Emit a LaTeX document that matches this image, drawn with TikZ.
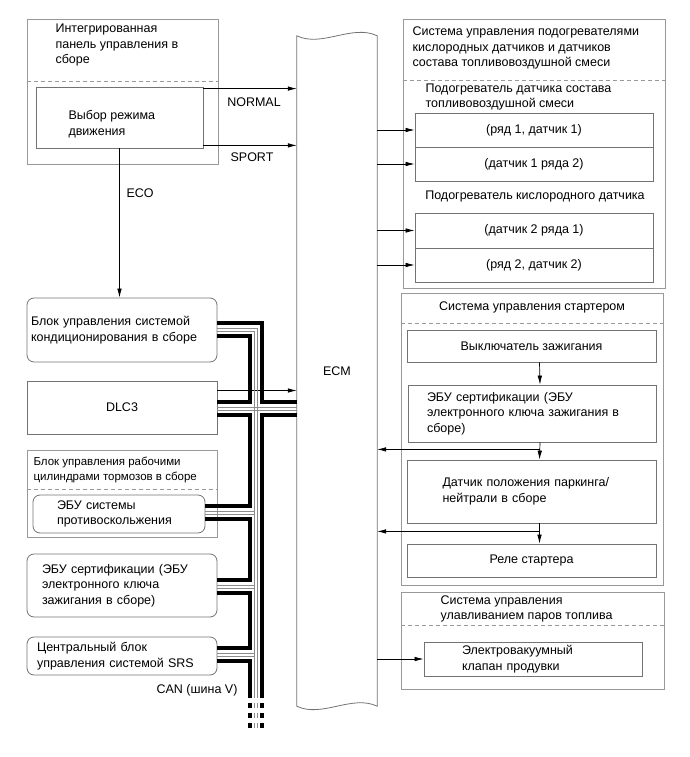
\documentclass[tikz,border=0pt]{standalone}
\usepackage{fontspec}
\setmainfont{Liberation Sans}
\usetikzlibrary{arrows.meta, calc}
\tikzset{
    frame/.style={draw=black!40, line width=0.8pt, inner sep=0pt},
    box/.style={
        draw=black!55,
        line width=0.8pt,
        inner sep=0pt,
        align=center
    },
    ecu/.style={box, rounded corners=7pt},
    sep/.style={draw=black!40, dash pattern=on 4pt off 3pt, line width=0.8pt},
    line/.style={-{Latex[length=9pt,width=4.5pt]}, line width=0.7pt},
    title/.style={anchor=west, align=left},
    note/.style={font=\fontsize{11.5}{15}\selectfont}
}

\begin{document}
\begin{tikzpicture}[
    x=1pt,y=-1pt,
    font=\fontsize{12.5}{15.5}\selectfont,
    canb/.style={line width=3.2pt, black},
    cang/.style={line width=0.8pt, black!45},
    canend/.style={dash pattern=on 5pt off 5pt}
]
\useasboundingbox (0,0) rectangle (690,757);

% left column
\node[frame, minimum width=191, minimum height=145] (panel) at (122.5,91.5) {};
\node[title] at (52,45) {Интегрированная\\панель управления в\\сборе};
\draw[sep] (panel.west |- 0,81) -- (panel.east |- 0,81);
\node[box, minimum width=167, minimum height=61] (mode) at (119.5,117.5) {};
\node[title] (modetxt) at (65,124) {Выбор режима\\движения};

\node[ecu, minimum width=190, minimum height=64, text width=182, align=left] (ac) at (122,330) {Блок управления системой\\кондиционирования в сборе\\[4pt]};
\node[box, minimum width=190, minimum height=53] (dlc) at (122,407.5) {DLC3};

\node[frame, minimum width=190, minimum height=87] (brake) at (122,493.5) {};
\node[title, note] at (30,469.5) {Блок управления рабочими\\цилиндрами тормозов в сборе};
\draw[sep] (brake.west |- 0,489) -- (brake.east |- 0,489);
\node[ecu, minimum width=172, minimum height=38, text width=124, align=left] (abs) at (119,514) {ЭБУ системы\\противоскольжения};

\node[ecu, minimum width=190, minimum height=63, text width=160, align=left] (crt1) at (122,585.5) {ЭБУ сертификации (ЭБУ\\электронного ключа\\зажигания в сборе)};
\node[ecu, minimum width=190, minimum height=38, text width=170, align=left] (srs) at (122,656) {Центральный блок\\управления системой SRS};
\node[anchor=east] (can) at (241,690) {CAN (шина V)};

% ECM
\node[minimum width=80, minimum height=670] (ecm) at (337,371) {ECM};
\draw[draw=black!55, line width=0.8pt] (ecm.south west) -- (ecm.north west)
    .. controls +(25,12) and +(-25,-12) .. (ecm.north east) -- (ecm.south east)
    .. controls +(-25,-12) and +(25,12) .. (ecm.south west) -- cycle;

% heaters
\node[frame, minimum width=262, minimum height=269] (heat) at (534,153.5) {};
\node[title] at (409,48) {Система управления подогревателями\\кислородных датчиков и датчиков\\состава топливовоздушной смеси};
\draw[sep] (heat.west |- 0,80) -- (heat.east |- 0,80);
\node[title] at (422,97) {Подогреватель датчика состава\\топливовоздушной смеси};
\node[box, minimum width=238, minimum height=34] (h11) at (534,130) {(ряд 1, датчик 1)};
\node[box, minimum width=238, minimum height=34] (h12) at (534,164) {(датчик 1 ряда 2)};
\node (sub2) at (535,196) {Подогреватель кислородного датчика};
\node[box, minimum width=238, minimum height=35] (h21) at (534,230.5) {(датчик 2 ряда 1)};
\node[box, minimum width=238, minimum height=34] (h22) at (534,265) {(ряд 2, датчик 2)};

% starter
\node[frame, minimum width=262, minimum height=292] (start) at (532,439) {};
\node at (532,307) {Система управления стартером};
\draw[sep] (start.west |- 0,323) -- (start.east |- 0,323);
\node[box, minimum width=249, minimum height=32] (ign) at (531.5,346) {Выключатель зажигания};
\node[box, minimum width=248, minimum height=57, text width=210, align=left] (crt2) at (532,413.5) {ЭБУ сертификации (ЭБУ\\электронного ключа зажигания в\\сборе)};
\node[box, minimum width=249, minimum height=63, text width=178, align=left] (pn) at (531.5,491.5) {Датчик положения паркинга/\\нейтрали в сборе};
\node[box, minimum width=249, minimum height=33] (relay) at (531.5,560.5) {Реле стартера};

% evap
\node[frame, minimum width=263, minimum height=97] (evap) at (532.5,640.5) {};
\node[title] at (437,609) {Система управления\\улавливанием паров топлива};
\draw[sep] (evap.west |- 0,625) -- (evap.east |- 0,625);
\node[box, minimum width=218, minimum height=34, text width=142, align=left] (vsv) at (533,659) {Электровакуумный\\клапан продувки};

% mode switch signals
\draw[line] ([yshift=-2]mode.north east) coordinate (nrm) -- (nrm -| ecm.west);
\node (nrmlbl) at (254,102) {NORMAL};
\draw[line] ([yshift=3]mode.south east) coordinate (spt) -- (spt -| ecm.west);
\node (sptlbl) at (252,157) {SPORT};
\draw[line] (mode.south) -- (mode.south |- ac.north);
\node[anchor=west] (ecolbl) at (123,193) {ECO};
\draw[line] ([yshift=17]dlc.east) coordinate (dl) -- (dl -| ecm.west);

% ECM outputs
\draw[line] (ecm.east |- h11) -- (h11.west);
\draw[line] (ecm.east |- h12) -- (h12.west);
\draw[line] (ecm.east |- h21) -- (h21.west);
\draw[line] (ecm.east |- h22) -- (h22.west);
\draw[line] (ecm.east |- vsv) -- (vsv.west);

% starter chain
\draw[line] ([xshift=8]ign.south) -- ([xshift=8]crt2.north);
\draw[line] ([xshift=8]crt2.south) -- ([xshift=8]pn.north);
\draw[line] ([xshift=8]pn.south) -- ([xshift=8]relay.north);
\draw[line] ([xshift=8,yshift=-7]crt2.south) coordinate (tp1) -- (tp1 -| ecm.east);
\draw[line] ([xshift=8,yshift=-8]pn.south) coordinate (tp2) -- (tp2 -| ecm.east);

% CAN bus
\draw[canb] (ac.east |- 0,323) -| (262,402) -- (ecm.west |- 0,402);
\draw[cang] (ac.east |- 0,328) -| (257,698);
\draw[cang] (ac.east |- 0,331) -| (254,698);
\draw[canb] (ac.east |- 0,336) -| (250,402) -- (dlc.east |- 0,402);
\draw[cang] (dlc.east |- 0,407) -- (ecm.west |- 0,407);
\draw[cang] (dlc.east |- 0,410) -- (ecm.west |- 0,410);
\draw[canb] (dlc.east |- 0,415) -| (250,506) -- (abs.east |- 0,506);
\draw[canb] (ecm.west |- 0,415) -| (262,698);
\draw[cang] (abs.east |- 0,511) -- (254,511);
\draw[cang] (abs.east |- 0,514) -- (254,514);
\draw[canb] (abs.east |- 0,519) -| (250,580) -- (crt1.east |- 0,580);
\draw[cang] (crt1.east |- 0,585) -- (254,585);
\draw[cang] (crt1.east |- 0,588) -- (254,588);
\draw[canb] (crt1.east |- 0,593) -| (250,648) -- (srs.east |- 0,648);
\draw[cang] (srs.east |- 0,653) -- (254,653);
\draw[cang] (srs.east |- 0,656) -- (254,656);
\draw[canb] (srs.east |- 0,661) -| (250,698);
\foreach \bx/\bs in {250/canb, 254/cang, 257/cang, 262/canb}
    \draw[\bs, canend] (\bx,703) -- (\bx,728);

\end{tikzpicture}
\end{document}
